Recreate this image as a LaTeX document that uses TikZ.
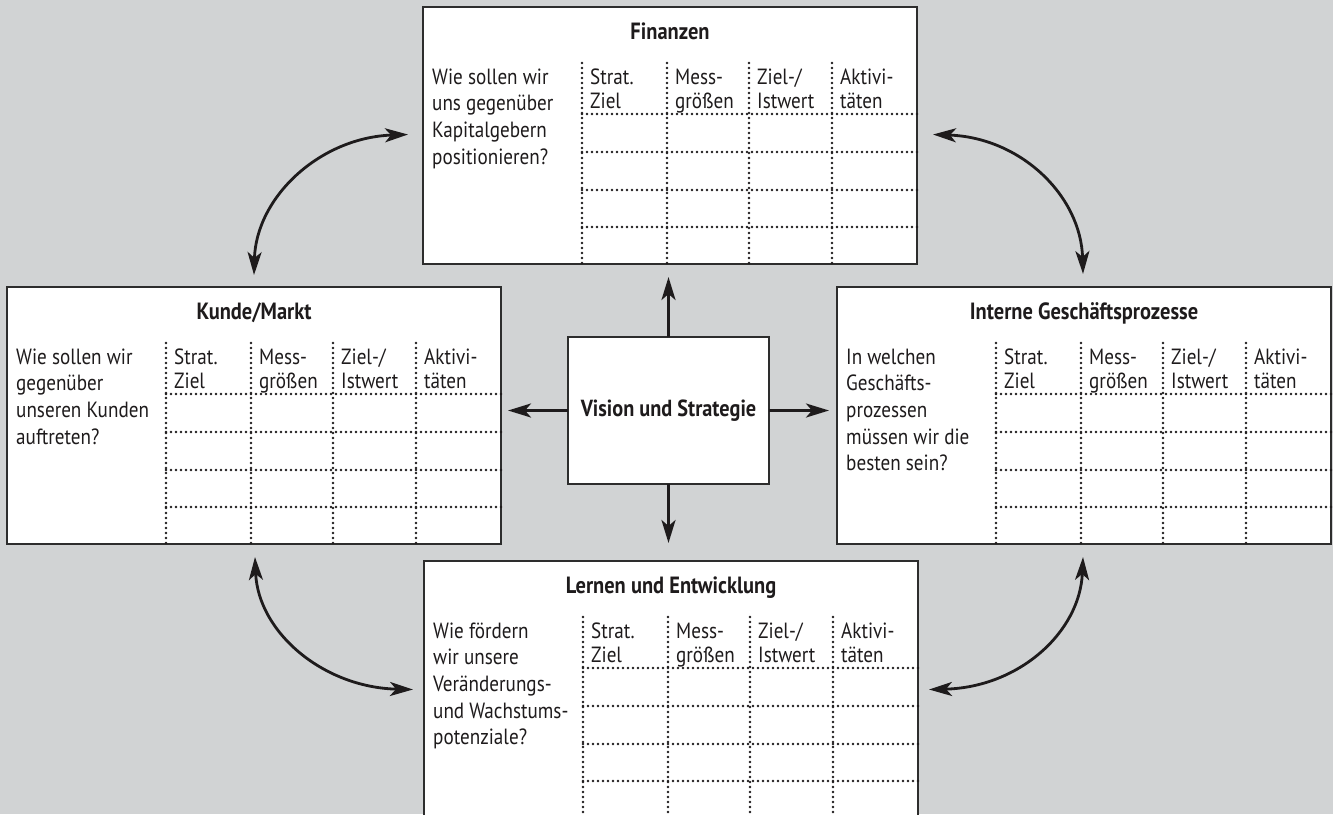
\documentclass[tikz,border=0pt]{standalone}
\usepackage{fontspec}
\setmainfont{PT Sans}[FakeStretch=0.87]
\usetikzlibrary{calc,arrows.meta}
\definecolor{bg}{RGB}{209,211,212}
\definecolor{ink}{RGB}{30,27,28}
\definecolor{frame}{RGB}{45,45,45}
\tikzset{
  panel/.style={draw=frame, fill=white, line width=1.3pt, minimum width=494pt, minimum height=257pt, anchor=north west, inner sep=0pt, outer sep=0pt},
  ptitle/.style={anchor=base, inner sep=0pt, font=\fontsize{23.5}{26}\selectfont\bfseries, text=ink},
  pquest/.style={anchor=base west, inner sep=0pt, font=\fontsize{22}{26.7}\selectfont, text=ink},
  phead/.style={anchor=base west, inner sep=0pt, font=\fontsize{22}{24}\selectfont, text=ink},
  visbox/.style={draw=frame, fill=white, line width=1.3pt, minimum width=201pt, minimum height=147pt, inner sep=0pt, outer sep=0pt, font=\fontsize{23.3}{28}\selectfont\bfseries, text=ink},
  dotline/.style={draw=ink, line width=2.6pt, dash pattern=on 0pt off 5pt, line cap=round},
  arr/.style={draw=ink, line width=2.8pt, -{Stealth[length=23pt,width=14pt,inset=6pt]}},
  dblarr/.style={draw=ink, line width=2.8pt, {Stealth[length=23pt,width=14pt,inset=6pt]}-{Stealth[length=23pt,width=14pt,inset=6pt]}},
}
\newcommand{\bscpanel}[5]{%
  \node[panel] (#1) at (#2,#3) {};
  \node[ptitle] (#1-t) at ($(#1.north west)+(247,32)$) {#4};
  \node[pquest] (#1-q) at ($(#1.north west)+(9,77)$) {\begin{tabular}[t]{@{}l@{}}#5\end{tabular}};
  \foreach \cx/\hd [count=\i] in {159/{Strat.\\Ziel},244/{Mess-\\größen},326/{Ziel-/\\Istwert},409/{Aktivi-\\täten}}{
    \draw[dotline] ($(#1.north west)+(\cx,56)$) -- ($(#1.south west)+(\cx,0)$);
    \node[phead] (#1-h\i) at ($(#1.north west)+(\cx+8,77)$) {\begin{tabular}[t]{@{}l@{}}\hd\end{tabular}};
  }
  \foreach \ry in {107,145,183,220}{
    \draw[dotline] ($(#1.north west)+(159,\ry)$) -- ($(#1.north east)+(0,\ry)$);
  }
}
\begin{document}
\begin{tikzpicture}[x=1pt,y=-1pt]
\fill[bg] (0,0) rectangle (1333,814);
\useasboundingbox (0,0) rectangle (1333,814);
\clip (0,0) rectangle (1333,814);

\bscpanel{fin}{423}{7}{Finanzen}{Wie sollen wir\\uns gegenüber\\Kapitalgebern\\positionieren?}
\bscpanel{kunde}{7}{287}{Kunde/Markt}{Wie sollen wir\\gegenüber\\unseren Kunden\\auftreten?}
\bscpanel{intern}{837}{287}{Interne Geschäftsprozesse}{In welchen\\Geschäfts-\\prozessen\\müssen wir die\\besten sein?}
\bscpanel{lern}{424}{561}{Lernen und Entwicklung}{Wie fördern\\wir unsere\\Veränderungs-\\und Wachstums-\\potenziale?}

\node[visbox] (vis) at (668.5,410.5) {Vision und Strategie};

\draw[arr, shorten >=13pt] (vis.north) -- (vis.north |- fin.south);
\draw[arr, shorten >=18pt] (vis.south) -- (vis.south |- lern.north);
\draw[arr, shorten >=7pt] (vis.west) -- (vis.west -| kunde.east);
\draw[arr, shorten >=8pt] (vis.east) -- (vis.east -| intern.west);

\coordinate (c1) at ($(kunde.north)+(0,-12)$);
\coordinate (c2) at ($(fin.west)+(-15,-1)$);
\coordinate (c3) at ($(intern.north)+(-1,-13)$);
\coordinate (c4) at ($(fin.east)+(16,-1)$);
\coordinate (c5) at ($(kunde.south)+(1,13)$);
\coordinate (c6) at ($(lern.west)+(-11,0)$);
\coordinate (c7) at ($(intern.south)+(-1,13)$);
\coordinate (c8) at ($(lern.east)+(11,0)$);

\draw[dblarr] (c1) .. controls +(2,-78) and +(-88,3) .. (c2);
\draw[dblarr] (c3) .. controls +(-2,-78) and +(88,3) .. (c4);
\draw[dblarr] (c5) .. controls +(3,75) and +(-90,-2) .. (c6);
\draw[dblarr] (c7) .. controls +(-3,75) and +(90,-2) .. (c8);
\end{tikzpicture}
\end{document}
